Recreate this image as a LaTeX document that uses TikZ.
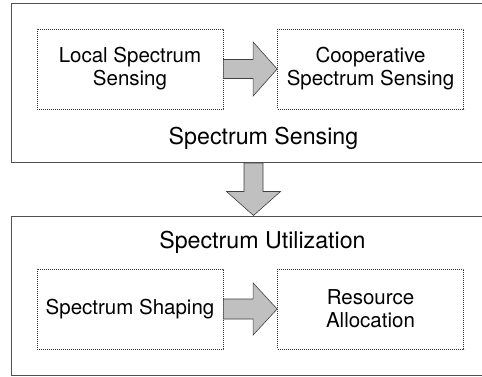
\documentclass[tikz,border=0pt]{standalone}
\usepackage{fontspec}
\setmainfont{TeX Gyre Heros}
\usetikzlibrary{calc}
\definecolor{arrowfill}{HTML}{C0C0C0}
\definecolor{arrowedge}{HTML}{404040}
\definecolor{outeredge}{HTML}{505050}
\definecolor{inneredge}{HTML}{303030}
\begin{document}
\begin{tikzpicture}[x=1pt,y=-1pt,
  outerbox/.style={draw=outeredge, line width=1.1pt, minimum width=540pt, minimum height=159pt, inner sep=0pt, anchor=north west},
  innerbox/.style={draw=inneredge, line width=0.7pt, dash pattern=on 0.9pt off 1.1pt, minimum width=186pt, minimum height=80pt, inner sep=0pt, align=center, font=\fontsize{20.5}{23}\selectfont},
  title/.style={font=\fontsize{23.2}{26}\selectfont, anchor=base, inner sep=0pt},
  blockarrow/.style={fill=arrowfill, draw=arrowedge, line width=0.6pt, line join=miter}]
\useasboundingbox (0,0) rectangle (482,376);
\clip (0,0) rectangle (482,376);
\fill[white] (0,0) rectangle (482,376);
% outer boxes
\node[outerbox] (sens) at (11,3) {};
\node[outerbox] (util) at (11,215.5) {};
% inner boxes
\node[innerbox] (local) at (130,69) {Local Spectrum\\Sensing};
\node[innerbox] (coop) at (370.5,69) {Cooperative\\Spectrum Sensing};
\node[innerbox] (shape) at (130,309) {Spectrum Shaping};
\node[innerbox] (alloc) at (370.5,309) {Resource\\Allocation};
% titles
\node[title] (senstitle) at (263.5,144) {Spectrum Sensing};
\node[title] (utiltitle) at (262.5,248.5) {Spectrum Utilization};
% horizontal block arrows
\draw[blockarrow] ($(local.east)+(0,-9.5)$) -- ($(coop.west)+(-24,-9.5)$) -- ($(coop.west)+(-24,-27)$) -- (coop.west) -- ($(coop.west)+(-24,27)$) -- ($(coop.west)+(-24,9.5)$) -- ($(local.east)+(0,9.5)$) -- cycle;
\draw[blockarrow] ($(shape.east)+(0,-10)$) -- ($(alloc.west)+(-24,-10)$) -- ($(alloc.west)+(-24,-26)$) -- (alloc.west) -- ($(alloc.west)+(-24,26)$) -- ($(alloc.west)+(-24,10)$) -- ($(shape.east)+(0,10)$) -- cycle;
% vertical block arrow
\coordinate (dx) at (253.5,0);
\coordinate (dtop) at (sens.south -| dx);
\coordinate (dtip) at (util.north -| dx);
\draw[blockarrow] ($(dtop)+(-9.5,0)$) -- ($(dtip)+(-9.5,-24)$) -- ($(dtip)+(-27,-24)$) -- (dtip) -- ($(dtip)+(27,-24)$) -- ($(dtip)+(9.5,-24)$) -- ($(dtop)+(9.5,0)$) -- cycle;
\end{tikzpicture}
\end{document}
